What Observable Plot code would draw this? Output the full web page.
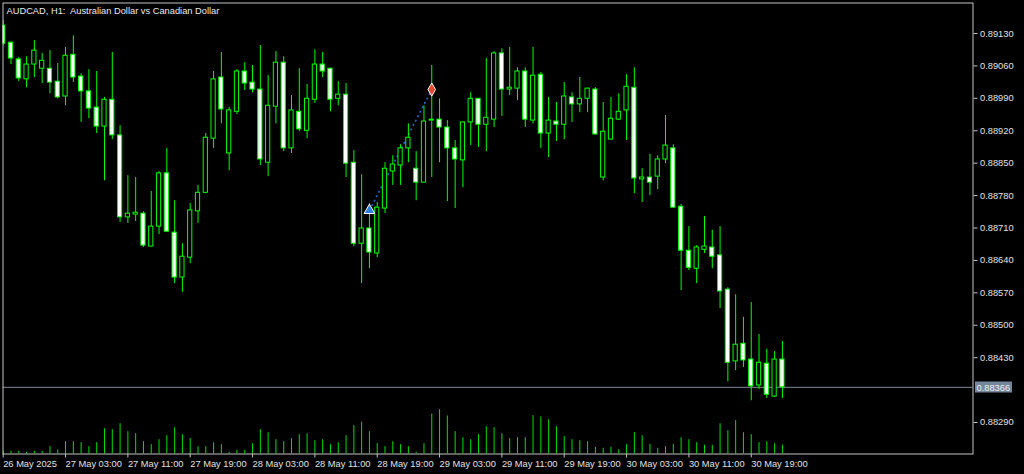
<!DOCTYPE html>
<html><head><meta charset="utf-8">
<script src="https://cdn.jsdelivr.net/npm/d3@7"></script>
<script src="https://cdn.jsdelivr.net/npm/@observablehq/plot@0.6"></script>
<style>
html,body{margin:0;padding:0;background:#000;overflow:hidden}
#chart svg{display:block}
</style></head><body><div id="chart"></div>
<script>
const chartTitle = "AUDCAD, H1:\u00a0 Australian Dollar vs Canadian Dollar";
const firstBar = new Date("2025-05-26T19:00:00Z");

const opens = [0.89147,0.89110,0.89074,0.89031,0.89063,0.89054,0.89054,0.89026,0.88994,0.89084,
0.89037,0.89005,0.88970,0.88929,0.88987,0.88910,0.88733,0.88739,0.88741,0.88670,
0.88713,0.88828,0.88700,0.88603,0.88646,0.88746,0.88786,0.88903,0.89035,0.88871,
0.88961,0.89048,0.89024,0.89009,0.88851,0.88972,0.89067,0.88882,0.88961,0.88920,
0.88987,0.89063,0.89054,0.88989,0.88998,0.88851,0.88676,0.88709,0.88655,0.88752,
0.88832,0.88845,0.88882,0.88838,0.88808,0.88942,0.88944,0.88927,0.88882,0.88856,
0.88938,0.88989,0.88933,0.88944,0.89087,0.89009,0.89011,0.89048,0.88942,0.89041,
0.88914,0.88940,0.88933,0.88992,0.88977,0.88989,0.89009,0.88819,0.88901,0.88944,
0.88964,0.89013,0.88815,0.88819,0.88821,0.88858,0.88882,0.88756,0.88661,0.88622,
0.88663,0.88668,0.88651,0.88577,0.88422,0.88460,0.88426,0.88370,0.88417,0.88346,
0.88426];
const highs = [0.89158,0.89113,0.89078,0.89080,0.89115,0.89087,0.89093,0.89065,0.89100,0.89125,
0.89043,0.89052,0.89048,0.88992,0.89089,0.88931,0.88823,0.88819,0.88745,0.88789,
0.88832,0.88882,0.88769,0.88676,0.88763,0.88802,0.88914,0.89048,0.89089,0.88970,
0.89052,0.89067,0.89061,0.89104,0.89039,0.89091,0.89080,0.88996,0.89054,0.89020,
0.89095,0.89089,0.89055,0.89026,0.89022,0.88877,0.88825,0.88763,0.88765,0.88851,
0.88866,0.88890,0.88935,0.88875,0.88974,0.89061,0.88989,0.88942,0.88899,0.88939,
0.89002,0.88990,0.89076,0.89091,0.89097,0.89100,0.89056,0.89056,0.89100,0.89046,
0.88992,0.88981,0.89024,0.89002,0.89035,0.89012,0.89013,0.88981,0.88992,0.89000,
0.89041,0.89056,0.88838,0.88869,0.88866,0.88953,0.88890,0.88761,0.88713,0.88672,
0.88735,0.88705,0.88713,0.88581,0.88566,0.88517,0.88549,0.88480,0.88448,0.88443,
0.88465];
const lows = [0.89104,0.89063,0.89026,0.89013,0.89035,0.89022,0.89000,0.88989,0.88974,0.89024,
0.88938,0.88946,0.88914,0.88812,0.88901,0.88722,0.88720,0.88724,0.88668,0.88669,
0.88696,0.88701,0.88590,0.88571,0.88633,0.88720,0.88784,0.88882,0.88935,0.88834,
0.88955,0.89007,0.89002,0.88845,0.88821,0.88935,0.88875,0.88871,0.88918,0.88903,
0.88979,0.89035,0.88961,0.88974,0.88819,0.88670,0.88590,0.88622,0.88646,0.88741,
0.88802,0.88802,0.88851,0.88769,0.88807,0.88819,0.88851,0.88767,0.88752,0.88797,
0.88888,0.88884,0.88875,0.88927,0.88951,0.88996,0.88985,0.88927,0.88935,0.88882,
0.88862,0.88897,0.88901,0.88938,0.88959,0.88959,0.88911,0.88812,0.88900,0.88942,
0.88899,0.88784,0.88765,0.88780,0.88793,0.88849,0.88753,0.88575,0.88618,0.88590,
0.88655,0.88622,0.88536,0.88378,0.88402,0.88409,0.88337,0.88361,0.88342,0.88344,
0.88342];
const closes = [0.89108,0.89076,0.89033,0.89063,0.89093,0.89071,0.89024,0.88992,0.89082,0.89035,
0.89005,0.88968,0.88929,0.88987,0.88910,0.88733,0.88741,0.88743,0.88672,0.88713,
0.88828,0.88702,0.88603,0.88648,0.88748,0.88786,0.88905,0.89031,0.88966,0.88964,
0.89048,0.89022,0.89009,0.88858,0.88974,0.89067,0.88882,0.88964,0.88923,0.88989,
0.89063,0.89048,0.88987,0.88998,0.88849,0.88676,0.88709,0.88657,0.88754,0.88838,
0.88847,0.88882,0.88905,0.88808,0.88940,0.88944,0.88927,0.88882,0.88858,0.88938,
0.88989,0.88933,0.88948,0.89087,0.89009,0.89013,0.89048,0.88944,0.89039,0.88914,
0.88942,0.88933,0.88994,0.88977,0.88989,0.89011,0.88912,0.88918,0.88946,0.88961,
0.89015,0.88817,0.88819,0.88808,0.88858,0.88888,0.88754,0.88661,0.88624,0.88668,
0.88670,0.88648,0.88573,0.88419,0.88458,0.88424,0.88368,0.88419,0.88350,0.88426,
0.88366];
const volumes = [300,270,270,170,270,270,730,400,1230,1230,
1130,730,1130,2530,2430,3030,2230,2030,1230,930,
1430,1830,2630,1930,1530,730,730,1130,930,170,
370,370,1030,2430,2130,1430,1230,1530,1930,2030,
1330,1430,930,1130,1830,2830,3200,2230,1030,730,
1230,930,730,170,1030,4000,4430,3800,2230,1630,
1430,1930,2730,2630,2030,1530,1630,1630,3830,3700,
3430,2730,1730,1430,1330,1230,670,570,670,430,
930,2130,1830,970,570,730,970,1630,1430,1130,
870,870,3030,2330,3330,2130,1930,1130,1230,1030,
870];

const priceTicks = [0.89130,0.89060,0.88990,0.88920,0.88850,0.88780,0.88710,0.88640,0.88570,0.88500,0.88430,0.88290];
const timeTicks = ["2025-05-26T19:00Z","2025-05-27T03:00Z","2025-05-27T11:00Z","2025-05-27T19:00Z",
"2025-05-28T03:00Z","2025-05-28T11:00Z","2025-05-28T19:00Z","2025-05-29T03:00Z",
"2025-05-29T11:00Z","2025-05-29T19:00Z","2025-05-30T03:00Z","2025-05-30T11:00Z","2025-05-30T19:00Z"];
const timeTickLabels = ["26 May 2025","27 May 03:00","27 May 11:00","27 May 19:00","28 May 03:00",
"28 May 11:00","28 May 19:00","29 May 03:00","29 May 11:00","29 May 19:00","30 May 03:00",
"30 May 11:00","30 May 19:00"];
const bidPrice = 0.88366;
const tradeBars = [47, 55];
const tradePrices = [0.88748, 0.89009];
const tradeSides = ["buy", "sell"];

// ---- build table ----
const H = 3600e3;
const bars = opens.map((o, i) => ({
  t: new Date(+firstBar + i * H), o, h: highs[i], l: lows[i], c: closes[i], v: volumes[i]
}));
const tickDates = timeTicks.map(s => new Date(s));
const labelMap = new Map(tickDates.map((d, i) => [+d, timeTickLabels[i]]));
const trades = tradeBars.map((b, i) => ({t: bars[b].t, p: tradePrices[i], side: tradeSides[i]}));

const yLo = 0.882220, yHi = 0.891959;
const plotHeightPx = 451;
const volPerPx = 100;              // tick volume shown per pixel of height
const pxPrice = (yHi - yLo) / plotHeightPx;
const halfBody = 0.27 * H;
const green = "#00ff00";

const bidLabel = (index, scales, values, dims) => {
  const y = Math.round(scales.y(bidPrice));
  const x0 = dims.width - dims.marginRight + 2.5;
  const g = d3.create("svg:g");
  g.append("rect").attr("x", x0).attr("y", y - 5.5).attr("width", 37).attr("height", 11)
    .attr("fill", "#748699");
  g.append("text").attr("x", x0 + 1.5).attr("y", y + 3.5).attr("text-anchor", "start")
    .attr("fill", "#f2f2f2").attr("font-size", "9.3px").text(d3.format(".5f")(bidPrice));
  return g.node();
};

const chart = Plot.plot({
  width: 1024,
  height: 474,
  marginLeft: 2.5,
  marginRight: 51.5,
  marginTop: 2.5,
  marginBottom: 20.5,
  style: {background: "#000", color: "#c8c8c8", fontFamily: "'Liberation Sans', Arial, sans-serif", fontSize: "9.3px"},
  x: {type: "utc", domain: [new Date(+firstBar - 0.026 * H), new Date(+firstBar + 124.46 * H)]},
  y: {domain: [yLo, yHi]},
  marks: [
    Plot.ruleX(bars, {x: "t", y1: yLo, y2: d => yLo + (d.v / volPerPx) * pxPrice, stroke: "#00e000", strokeWidth: 1, clip: true}),
    Plot.ruleY([bidPrice], {stroke: "#7c8a99", strokeWidth: 1}),
    Plot.link([trades], {x1: d => d[0].t, y1: d => d[0].p, x2: d => d[1].t, y2: d => d[1].p,
      stroke: "#2468c8", strokeWidth: 1.6, strokeDasharray: "2,3"}),
    Plot.ruleX(bars, {x: "t", y1: "l", y2: "h", stroke: green, strokeWidth: 1, clip: true}),
    Plot.rect(bars, {x1: d => new Date(+d.t - halfBody), x2: d => new Date(+d.t + halfBody),
      y1: "o", y2: "c", fill: d => d.c < d.o ? "#ffffff" : "#000000", stroke: green, strokeWidth: 1, clip: true}),
    Plot.dot(trades.filter(d => d.side === "buy"), {x: "t", y: "p", symbol: "triangle", r: 4,
      fill: "#2a7fe0", stroke: "#ffffff", strokeWidth: 1}),
    Plot.dot(trades.filter(d => d.side === "sell"), {x: "t", y: "p", symbol: "diamond", r: 4,
      fill: "#e8452c", stroke: "#ffffff", strokeWidth: 1}),
    Plot.frame({stroke: "#c4c4c4"}),
    Plot.axisY({anchor: "right", ticks: priceTicks, tickFormat: d3.format(".5f"), tickSize: 4, tickPadding: 3,
      label: null, fill: "#e2e2e2", stroke: "#c4c4c4"}),
    Plot.axisX({ticks: tickDates, tickFormat: d => labelMap.get(+d), tickSize: 4, tickPadding: 2,
      textAnchor: "start", label: null, fill: "#e2e2e2", stroke: "#c4c4c4"}),
    bidLabel,
    Plot.text([chartTitle], {frameAnchor: "top-left", text: d => d, dx: 3.5, dy: 4,
      textAnchor: "start", lineAnchor: "top", fill: "#ececec", fontSize: 9.3})
  ]
});
document.getElementById("chart").appendChild(chart);
</script></body></html>
